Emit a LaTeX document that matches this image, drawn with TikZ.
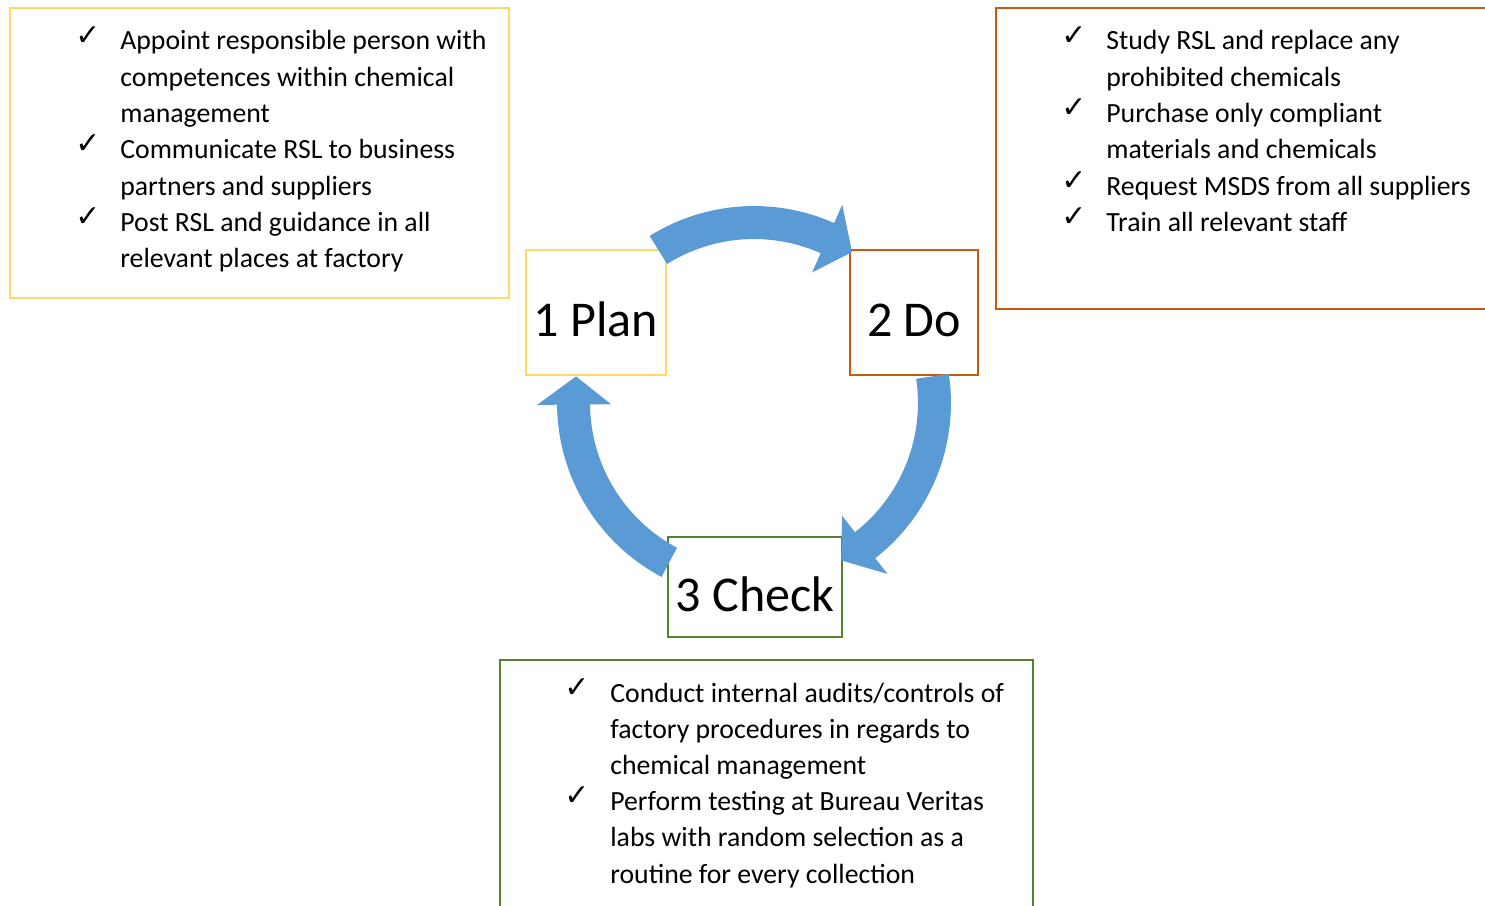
\documentclass[tikz,border=0pt]{standalone}
\usepackage{fontspec}
\setmainfont{Carlito}
\newfontfamily\tickfont{DejaVu Sans}
\usetikzlibrary{calc}
\definecolor{planyellow}{HTML}{FFD966}
\definecolor{doorange}{HTML}{C55A11}
\definecolor{checkgreen}{HTML}{548235}
\definecolor{cycleblue}{HTML}{5B9BD5}
\tikzset{
  stagebox/.style={draw, line width=0.8pt, fill=white, inner sep=0pt,
    font=\fontsize{28.5}{34}\selectfont, text height=27.8pt, text depth=0pt},
  listframe/.style={line width=0.8pt},
  itemline/.style={anchor=base west, inner sep=0pt, font=\fontsize{15.8}{20.6}\selectfont},
  tick/.style={anchor=base west, inner sep=0pt, font=\tickfont\bfseries\fontsize{17}{18}\selectfont},
  cyclearrow/.style={fill=cycleblue}
}

\begin{document}
\begin{tikzpicture}[x=0.02cm, y=0.02cm]
  \useasboundingbox (0,0) rectangle (1485,-906);
  \clip (0,0) rectangle (1485,-906);

  % Frames round the three lists
  \draw[listframe, planyellow] (10,-8) rectangle (509,-298);
  \draw[listframe, doorange] (996,-8) rectangle (1495,-309);
  \draw[listframe, checkgreen] (500,-660) rectangle (1033,-916);

  % Plan list
  \foreach \txt [count=\i] in {Appoint responsible person with, competences within chemical, management,
      Communicate RSL to business, partners and suppliers, Post RSL and guidance in all, relevant places at factory}
    \node[itemline] (plan-\i) at (120,{-50-36.3*(\i-1)}) {\txt};
  \foreach \i in {1,4,6}
    \node[tick] (plantick-\i) at (75,{-45-36.3*(\i-1)}) {✓};

  % Do list
  \foreach \txt [count=\i] in {Study RSL and replace any, prohibited chemicals, Purchase only compliant,
      materials and chemicals, Request MSDS from all suppliers, Train all relevant staff}
    \node[itemline] (do-\i) at (1106,{-50-36.3*(\i-1)}) {\txt};
  \foreach \i in {1,3,5,6}
    \node[tick] (dotick-\i) at (1061,{-45-36.3*(\i-1)}) {✓};

  % Check list
  \foreach \txt [count=\i] in {Conduct internal audits/controls of, factory procedures in regards to, chemical management,
      Perform testing at Bureau Veritas, labs with random selection as a, routine for every collection}
    \node[itemline] (check-\i) at (610,{-702-36.2*(\i-1)}) {\txt};
  \foreach \i in {1,4}
    \node[tick] (checktick-\i) at (564,{-697-36.2*(\i-1)}) {✓};

  % The three stages
  \node[stagebox, draw=planyellow, minimum width=2.8cm, minimum height=2.5cm] (plan) at (596,-312.5) {1 Plan};
  \node[stagebox, draw=doorange, minimum width=2.56cm, minimum height=2.5cm] (do) at (914,-312.5) {2 Do};
  \node[stagebox, draw=checkgreen, minimum width=3.48cm, minimum height=2cm] (check) at (755,-587) {3 Check};

  % Cycle arrows round the centre
  \coordinate (cyc) at (754,-403);
  \foreach \ta/\ba in {122/66, 8.5/-52, -118/-179.5} {
    \pgfmathsetmacro{\tp}{\ba-9}
    \fill[cyclearrow] ($(cyc)+(\ta:3.94cm)$) arc[start angle=\ta, end angle=\ba, radius=3.94cm]
      -- ($(cyc)+(\ba:4.34cm)$) -- ($(cyc)+(\tp:3.6cm)$) -- ($(cyc)+(\ba:2.86cm)$)
      -- ($(cyc)+(\ba:3.28cm)$) arc[start angle=\ba, end angle=\ta, radius=3.28cm] -- cycle;
  }
\end{tikzpicture}
\end{document}
